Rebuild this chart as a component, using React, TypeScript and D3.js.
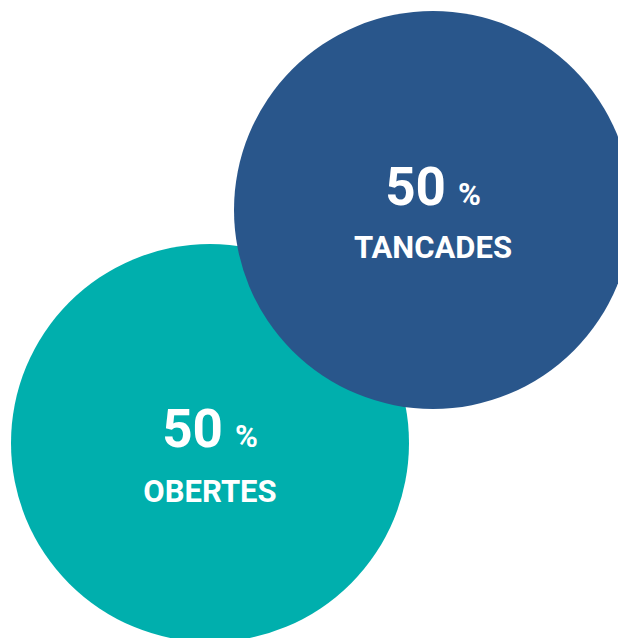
import React from "react";
import * as d3 from "d3";

const categories = ["OBERTES", "TANCADES"];
const values = [50, 50];
const colors = ["#00AFAD", "#29568B"];

const W = 618;
const H = 638;

export default function App() {
  const x = d3.scalePoint<string>().domain(categories).range([210, 433]);
  const y = d3.scalePoint<string>().domain(categories).range([443, 210]);
  const r = d3.scaleSqrt().domain([0, 50]).range([0, 199]);
  const fmt = d3.format("d");
  const numDy = [4, -5];
  const labDy = [59, 48];
  return (
    <svg
      width={W}
      height={H}
      style={{ position: "absolute", left: 0, top: 0, fontFamily: "Roboto, sans-serif" }}
    >
      {categories.map((c, i) => (
        <circle key={c} cx={x(c)!} cy={y(c)!} r={r(values[i])} fill={colors[i]} />
      ))}
      {categories.map((c, i) => {
        const cx = x(c)!;
        const cy = y(c)!;
        return (
          <g key={c + "t"} fill="#fff" fontWeight="bold" textAnchor="middle">
            <text x={cx} y={cy + numDy[i]}>
              <tspan fontSize={53}>{fmt(values[i])}</tspan>
              <tspan fontSize={31} dx={12}>%</tspan>
            </text>
            <text x={cx} y={cy + labDy[i]} fontSize={31}>
              {c}
            </text>
          </g>
        );
      })}
    </svg>
  );
}
